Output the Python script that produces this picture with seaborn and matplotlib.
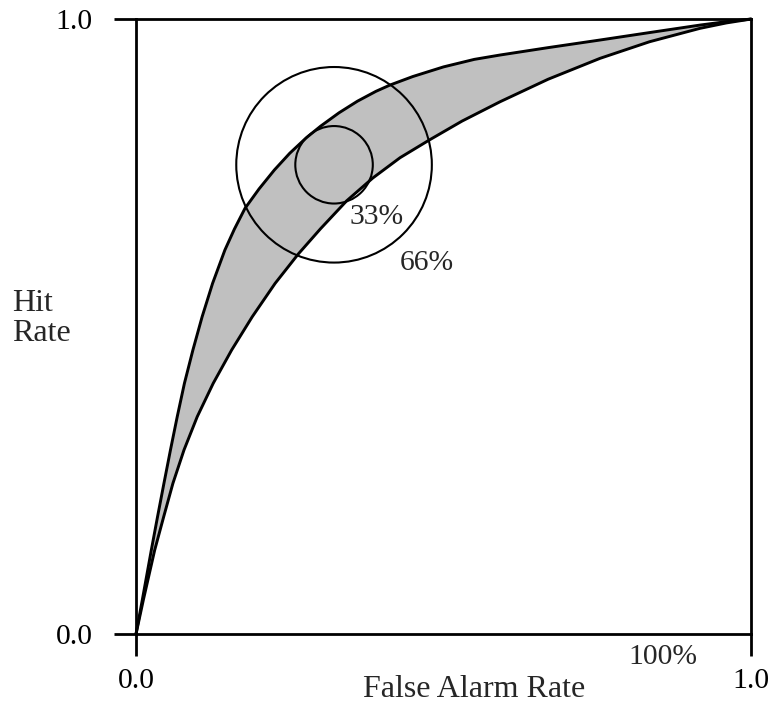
import numpy as np
import matplotlib
matplotlib.use("Agg")
import matplotlib.pyplot as plt
from matplotlib.patches import Circle
import seaborn as sns

# ROC curves (false alarm rate, hit rate)
upper_far = [0.0, 0.0102, 0.0249, 0.0350, 0.0454, 0.0560, 0.0670, 0.0787, 0.0925,
             0.1075, 0.1245, 0.1445, 0.160, 0.1772, 0.200, 0.225, 0.250, 0.2766,
             0.300, 0.330, 0.360, 0.390, 0.413, 0.450, 0.500, 0.550, 0.5919,
             0.670, 0.7545, 0.835, 0.9171, 0.960, 1.0]
upper_hit = [0.0, 0.0553, 0.1366, 0.1907, 0.2450, 0.2992, 0.3533, 0.4076, 0.4618,
             0.5159, 0.5702, 0.6244, 0.6585, 0.6922, 0.7237, 0.7546, 0.7818, 0.8067,
             0.8257, 0.8475, 0.8664, 0.8824, 0.8927, 0.9065, 0.9222, 0.9344, 0.9415,
             0.9535, 0.9659, 0.9780, 0.9902, 0.9958, 1.0]

lower_far = [0.0, 0.0119, 0.0304, 0.0450, 0.0600, 0.0780, 0.0995, 0.1255, 0.1555,
             0.1890, 0.2262, 0.2639, 0.300, 0.3426, 0.385, 0.4293, 0.4769, 0.530,
             0.5919, 0.670, 0.7545, 0.835, 0.9171, 0.960, 1.0]
lower_hit = [0.0, 0.0553, 0.1366, 0.1907, 0.2450, 0.2992, 0.3533, 0.4076, 0.4618,
             0.5159, 0.5702, 0.6180, 0.659, 0.7045, 0.7415, 0.7745, 0.8033, 0.834,
             0.8655, 0.9021, 0.9361, 0.9631, 0.9849, 0.9937, 1.0]

# confidence circles
circle_center = (0.322, 0.763)
circle_radii = [0.159, 0.063]
circle_labels = ["66%", "33%"]

tick_values = [0.0, 1.0]
tick_labels = ["0.0", "1.0"]

sns.set_style("white")
plt.rcParams["font.family"] = ["Liberation Serif", "DejaVu Serif"]
fs = 21.3

fig = plt.figure(figsize=(7.79, 7.08), dpi=100)
ax = fig.add_axes([0.1746, 0.1045, 0.7895, 0.8686])

# gray band between the two curves
ax.fill(np.concatenate([upper_far, lower_far[::-1]]),
        np.concatenate([upper_hit, lower_hit[::-1]]),
        color="#c0c0c0", lw=0, zorder=1)

for fx, hy in [(upper_far, upper_hit), (lower_far, lower_hit)]:
    sns.lineplot(x=fx, y=hy, ax=ax, color="black", lw=2.1,
                 sort=False, estimator=None, zorder=3)
for ln in ax.lines:
    ln.set_clip_on(False)
    ln.set_solid_joinstyle("round")

for r in circle_radii:
    ax.add_patch(Circle(circle_center, r, fill=False, ec="black", lw=1.5, zorder=4))

ax.text(0.391, 0.678, circle_labels[1], fontsize=fs, ha="center", va="center")
ax.text(0.4724, 0.604, circle_labels[0], fontsize=fs, ha="center", va="center")
ax.text(0.856, -0.038, "100%", fontsize=fs, ha="center", va="center")

ax.set_xlim(0, 1)
ax.set_ylim(0, 1)
ax.set_xticks(tick_values)
ax.set_xticklabels(tick_labels)
ax.set_yticks(tick_values)
ax.set_yticklabels(tick_labels)
ax.tick_params(bottom=True, left=True, direction="out", length=16, width=2.0,
               color="black", labelsize=fs, labelcolor="black")
ax.tick_params(axis="y", pad=15)
ax.tick_params(axis="x", pad=8.5)

for sp in ax.spines.values():
    sp.set_visible(True)
    sp.set_color("black")
    sp.set_linewidth(2.0)

ax.set_xlabel("False Alarm Rate", fontsize=23)
ax.xaxis.set_label_coords(0.55, -0.066)
ax.set_ylabel("Hit\nRate", fontsize=23, rotation=0, ha="left", va="center",
              multialignment="left", linespacing=1.05)
ax.yaxis.set_label_coords(-0.201, 0.513)

fig.savefig("out.png", dpi=100)
